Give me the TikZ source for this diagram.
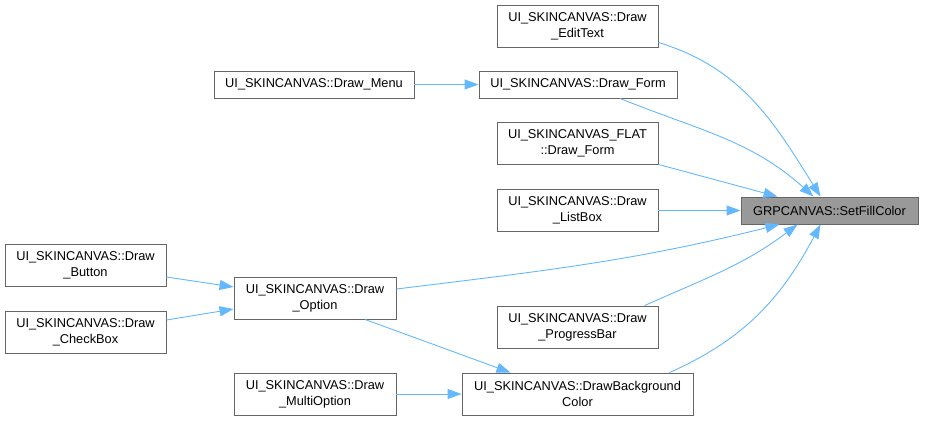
\documentclass[tikz,border=0pt]{standalone}
\usepackage{fontspec}
\setmainfont{Liberation Sans}
\usepackage{xcolor}
\definecolor{cEdge}{HTML}{63B8FF}
\definecolor{cBorder}{HTML}{666666}
\definecolor{cTarget}{HTML}{999999}
\usetikzlibrary{positioning,arrows.meta,calc}
\tikzset{
  node-func/.style={draw=cBorder,line width=0.9pt,fill=white,inner sep=0pt,
    align=center,font=\fontsize{12.8}{16}\selectfont,minimum height=42pt},
  node-one/.style={minimum height=27pt},
  node-target/.style={fill=cTarget},
  arrow-call/.style={-{Triangle[length=14pt,width=10pt]},line width=0.9pt,draw=cEdge},
}
\begin{document}
\begin{tikzpicture}[x=1pt,y=-1pt]
  \useasboundingbox (0,0) rectangle (925,421);
  % target function
  \node[node-func,node-one,node-target,minimum width=177pt] (fill) at (829.5,210.5) {GRPCANVAS::SetFillColor};
  % direct callers
  \node[node-func,minimum width=161pt] (edit) at (577.5,26) {UI\_SKINCANVAS::Draw\\\_EditText};
  \node[node-func,node-one,minimum width=198pt] (form) at (578,84.5) {UI\_SKINCANVAS::Draw\_Form};
  \node[node-func,node-one,minimum width=200pt] (menu) at (314,84.5) {UI\_SKINCANVAS::Draw\_Menu};
  \node[node-func,minimum width=161pt] (flat) at (577.5,143) {UI\_SKINCANVAS\_FLAT\\::Draw\_Form};
  \node[node-func,minimum width=161pt] (list) at (577.5,210.5) {UI\_SKINCANVAS::Draw\\\_ListBox};
  \node[node-func,minimum width=162pt] (option) at (315,298) {UI\_SKINCANVAS::Draw\\\_Option};
  \node[node-func,minimum width=161pt] (progress) at (577.5,327) {UI\_SKINCANVAS::Draw\\\_ProgressBar};
  \node[node-func,minimum width=231pt] (backgr) at (577.5,394) {UI\_SKINCANVAS::DrawBackground\\Color};
  % second level callers
  \node[node-func,minimum width=161pt] (button) at (85.5,265) {UI\_SKINCANVAS::Draw\\\_Button};
  \node[node-func,minimum width=161pt] (check) at (85.5,332) {UI\_SKINCANVAS::Draw\\\_CheckBox};
  \node[node-func,minimum width=162pt] (multi) at (315,394) {UI\_SKINCANVAS::Draw\\\_MultiOption};
  % calls
  \draw[arrow-call] ([yshift=5pt]edit.south east) to[out=-17,in=122] ([xshift=-9pt]fill.north);
  \draw[arrow-call] ([xshift=42pt]form.south) to[out=-22,in=138] ([xshift=-16pt]fill.north);
  \draw[arrow-call] (flat.south east) -- ([xshift=-52pt]fill.north);
  \draw[arrow-call] (list.east) -- (fill.west);
  \draw[arrow-call] ([yshift=9pt]option.east) to[out=7,in=-166] ([xshift=-50pt]fill.south);
  \draw[arrow-call] ([xshift=67pt]progress.north) to[out=24,in=-143] ([xshift=-32pt]fill.south);
  \draw[arrow-call] ([xshift=92pt]backgr.north) to[out=24,in=-118] ([xshift=-9pt]fill.south);
  \draw[arrow-call] (menu.east) -- (form.west);
  \draw[arrow-call] ([yshift=-12pt]button.east) -- ([yshift=11pt]option.west);
  \draw[arrow-call] ([yshift=12pt]check.east) -- ([yshift=-11pt]option.west);
  \draw[arrow-call] ([xshift=50pt]option.south) to[out=-20,in=160] ([xshift=-67pt]backgr.north);
  \draw[arrow-call] (multi.east) -- (backgr.west);
\end{tikzpicture}
\end{document}
